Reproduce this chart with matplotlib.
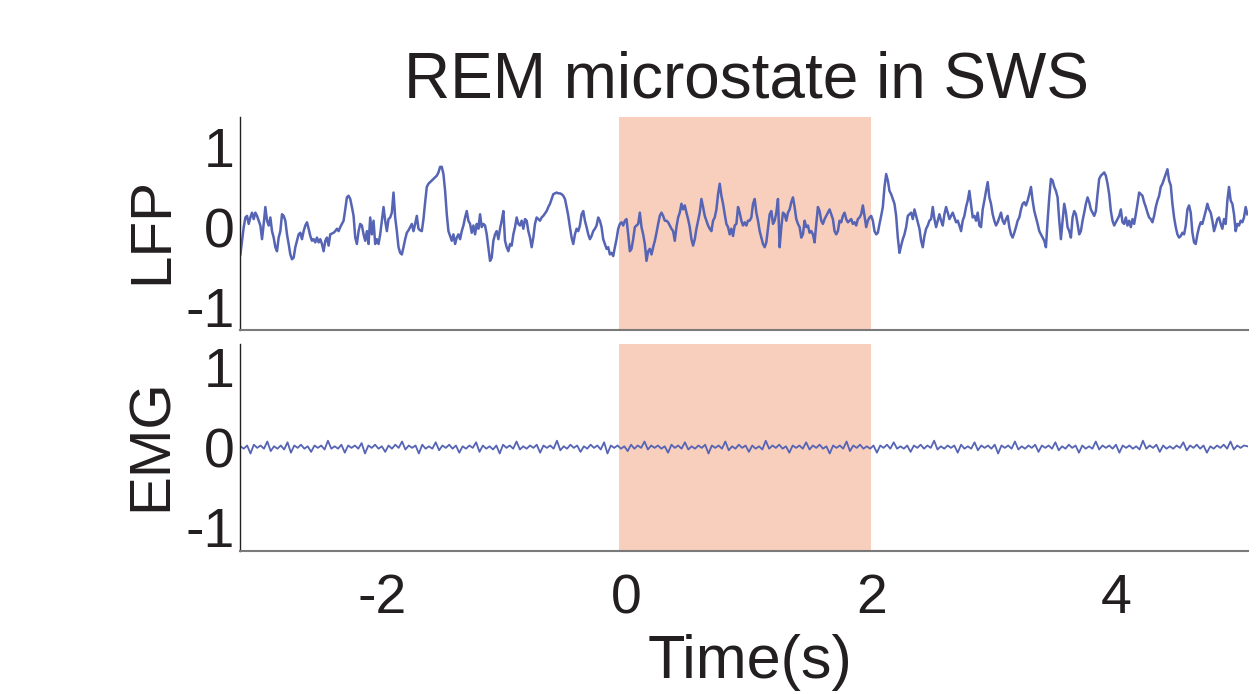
import numpy as np
import matplotlib
matplotlib.use("Agg")
import matplotlib.pyplot as plt

plt.rcParams['font.family'] = ['Liberation Sans', 'DejaVu Sans']
plt.rcParams['axes.unicode_minus'] = False

# ---------------- data ----------------
title = "REM microstate in SWS"
xlabel = "Time(s)"
trace_names = ["LFP", "EMG"]
x_ticks = [-2, 0, 2, 4]
y_ticks = [-1, 0, 1]
shade_start, shade_end = -0.06, 2.0
t_start, t_end = -3.157, 5.075  # time span of the recorded traces (s)

lfp = [
    # -3.16 s ...
    -0.34, -0.17, 0.00, 0.12, 0.14, 0.04, 0.12, 0.18, 0.10, 0.18, 0.14, 0.08, 0.02, -0.15, 0.04, 0.25, 0.08, 0.02, 0.12, -0.05,
    -0.13, -0.25, -0.30, -0.13, -0.05, 0.16, 0.14, 0.08, -0.09, -0.21, -0.34, -0.40, -0.38, -0.25, -0.17, -0.09, -0.07, -0.15, -0.05, 0.02,
    0.06, -0.02, -0.11, -0.17, -0.15, -0.19, -0.13, -0.19, -0.15, -0.21, -0.30, -0.17, -0.13, -0.23, -0.09, -0.08, -0.07, -0.05, -0.02, -0.05,
    0.00, 0.04, 0.08, 0.22, 0.37, 0.39, 0.35, 0.25, 0.14, -0.13, -0.21, -0.05, 0.04, 0.02, -0.09, -0.17, -0.05, -0.21, 0.12, -0.09,
    0.08, -0.21, -0.15, -0.21, -0.09, 0.08, 0.25, 0.08, -0.05, 0.10, 0.12, 0.18, 0.43, 0.12, -0.05, -0.25, -0.32, -0.34, -0.25, -0.15,
    -0.07, -0.04, 0.00, 0.04, -0.05, 0.04, 0.14, -0.02, -0.04, -0.05, 0.10, 0.31, 0.50, 0.54, 0.56, 0.58, 0.60, 0.62,
    # -1.53 s ...
    0.64, 0.68, 0.75, 0.75, 0.66, 0.45, 0.16, -0.05, -0.11, -0.17, -0.09, -0.21, -0.13, -0.09, -0.15, -0.05, 0.02, 0.12, 0.20, 0.08,
    0.04, -0.07, 0.02, -0.09, 0.04, -0.02, 0.16, 0.00, 0.04, 0.02, -0.09, -0.25, -0.42, -0.38, -0.17, -0.09, -0.05, -0.15, -0.02, 0.08,
    0.20, -0.17, -0.25, -0.30, -0.21, -0.23, -0.09, 0.00, 0.12, 0.04, 0.02, 0.08, -0.02, 0.10, 0.08, -0.05, -0.13, -0.25, -0.13, 0.04,
    0.12, 0.10, 0.08, 0.12, 0.14, 0.17, 0.20, 0.25, 0.29, 0.35, 0.41, 0.42, 0.43, 0.42, 0.42, 0.41, 0.39, 0.35, 0.25, 0.14,
    0.00, -0.13, -0.21, -0.09, -0.02, -0.05, 0.02, 0.16, 0.20, 0.08, 0.00, -0.09, -0.15, -0.11, -0.05, -0.02, 0.02, 0.12, 0.08, 0.00,
    -0.15, -0.21, -0.27, -0.25, -0.34, -0.32, -0.36, -0.25, -0.15, -0.02, 0.04, 0.06, 0.02, 0.08, 0.10, -0.09, -0.30, -0.27, -0.15, 0.00,
    # 0.08 s ...
    0.02, 0.04, 0.18, 0.00, -0.09, -0.21, -0.42, -0.30, -0.27, -0.34, -0.25, -0.17, -0.07, 0.04, 0.14, 0.18, 0.14, 0.08, 0.08, 0.06,
    0.02, -0.02, -0.05, -0.17, 0.00, 0.12, 0.18, 0.29, 0.22, 0.27, 0.18, 0.10, 0.00, -0.15, -0.23, -0.15, -0.02, 0.08, 0.18, 0.35,
    0.25, 0.14, 0.08, 0.02, -0.02, -0.05, 0.08, 0.12, 0.22, 0.41, 0.54, 0.39, 0.29, 0.16, 0.04, 0.00, -0.09, -0.02, -0.11, 0.02,
    0.04, 0.25, 0.18, 0.08, 0.02, 0.06, 0.02, 0.08, 0.08, 0.12, 0.29, 0.35, 0.18, 0.08, -0.05, -0.13, -0.21, -0.25, -0.19, -0.02,
    0.16, 0.20, 0.04, 0.08, 0.18, 0.35, -0.25, 0.00, 0.18, 0.16, 0.08, 0.18, 0.22, 0.31, 0.37, 0.25, 0.10, 0.04, 0.00, -0.13,
    -0.09, 0.08, 0.00, 0.02, -0.07, -0.05, -0.09, -0.19, 0.04, 0.25, 0.20, 0.08, 0.04, 0.10, 0.14, 0.18, 0.22, 0.16, 0.10, -0.05,
    # 1.71 s ...
    -0.09, -0.05, 0.08, 0.06, 0.14, 0.18, 0.10, 0.06, 0.08, 0.10, 0.04, 0.06, 0.02, 0.10, 0.12, 0.16, 0.27, 0.14, 0.00, 0.08,
    0.12, 0.14, 0.08, -0.05, -0.09, -0.07, 0.04, 0.14, 0.25, 0.50, 0.66, 0.58, 0.45, 0.41, 0.35, 0.29, 0.14, -0.13, -0.32, -0.23,
    -0.15, -0.09, 0.00, 0.14, 0.16, 0.18, 0.10, 0.22, 0.14, 0.06, -0.02, -0.17, -0.25, -0.11, -0.02, 0.02, 0.08, 0.10, 0.25, 0.10,
    0.00, 0.08, 0.16, 0.08, 0.02, 0.16, 0.25, 0.18, 0.10, 0.14, 0.18, 0.12, 0.06, 0.08, 0.02, -0.05, 0.08, 0.14, 0.25, 0.33,
    0.45, 0.29, 0.12, 0.14, 0.08, 0.18, 0.02, 0.00, 0.22, 0.33, 0.45, 0.56, 0.37, 0.29, 0.16, 0.08, 0.02, 0.06, 0.12, 0.18,
    0.08, 0.04, 0.10, 0.14, 0.00, -0.09, -0.13, -0.07, 0.00, 0.08, 0.12, 0.22, 0.29, 0.31, 0.27, 0.33, 0.41, 0.50, 0.33, 0.20,
    # 3.34 s ...
    0.12, 0.04, -0.05, -0.09, -0.13, -0.17, -0.25, 0.08, 0.37, 0.60, 0.58, 0.50, 0.45, 0.37, 0.08, -0.15, 0.08, 0.29, 0.18, 0.00,
    -0.05, -0.13, 0.12, 0.20, 0.16, 0.04, -0.09, -0.05, 0.08, 0.18, 0.29, 0.37, 0.31, 0.22, 0.18, 0.14, 0.20, 0.41, 0.60, 0.64,
    0.66, 0.68, 0.64, 0.54, 0.41, 0.20, 0.08, 0.02, 0.06, 0.10, 0.14, 0.22, 0.06, 0.04, 0.12, 0.02, 0.08, 0.00, 0.10, 0.04,
    0.16, 0.29, 0.43, 0.41, 0.39, 0.31, 0.25, 0.18, 0.12, 0.10, 0.06, 0.14, 0.25, 0.33, 0.39, 0.50, 0.54, 0.60, 0.66, 0.72,
    0.58, 0.52, 0.29, 0.12, 0.00, -0.09, -0.13, -0.11, -0.07, -0.09, 0.02, 0.22, 0.27, 0.18, -0.07, -0.19, -0.21, -0.09, 0.00, 0.06,
    0.04, 0.12, 0.20, 0.29, 0.22, 0.18, 0.08, -0.05, 0.02, 0.10, 0.12, 0.04, -0.02, 0.10, 0.04, 0.33, 0.50, 0.33, 0.29, 0.16,
    -0.05, 0.04, 0.02, 0.08, 0.06, 0.12, 0.25, 0.16,
]

emg = [
    0.01, -0.02, 0.02, -0.08, 0.03, -0.01, 0.02, -0.02, 0.07, -0.05, 0.01, -0.02, 0.02, -0.03, 0.06, -0.07, 0.02, -0.01, 0.03, -0.02,
    0.01, -0.06, 0.02, -0.01, 0.02, -0.03, 0.08, -0.02, 0.01, -0.02, 0.03, -0.07, 0.02, -0.01, 0.02, -0.02, 0.05, -0.08, 0.02, -0.01,
    0.03, -0.02, 0.01, -0.06, 0.02, -0.02, 0.03, -0.01, 0.07, -0.03, 0.02, -0.01, 0.02, -0.08, 0.03, -0.02, 0.01, -0.02, 0.06, -0.04,
    0.02, -0.01, 0.03, -0.02, 0.02, -0.07, 0.01, -0.02, 0.02, -0.01, 0.06, -0.06, 0.02, -0.02, 0.01, -0.03, 0.02, -0.08, 0.03, -0.01,
    0.02, -0.02, 0.07, -0.03, 0.01, -0.02, 0.02, -0.01, 0.03, -0.07, 0.02, -0.01, 0.02, -0.02, 0.08, -0.04, 0.01, -0.02, 0.03, -0.01,
    0.02, -0.06, 0.01, -0.02, 0.03, -0.01, 0.02, -0.03, 0.06, -0.08, 0.02, -0.01, 0.02, -0.02, 0.01, -0.05, 0.03, -0.02, 0.02, -0.01,
    0.07, -0.03, 0.02, -0.01, 0.02, -0.02, 0.01, -0.07, 0.03, -0.01, 0.02, -0.02, 0.06, -0.03, 0.01, -0.02, 0.02, -0.01, 0.03, -0.08,
    0.02, -0.01, 0.02, -0.02, 0.07, -0.04, 0.01, -0.02, 0.03, -0.01, 0.02, -0.06, 0.02, -0.02, 0.01, -0.03, 0.08, -0.02, 0.02, -0.01,
    0.03, -0.02, 0.01, -0.07, 0.02, -0.01, 0.02, -0.02, 0.06, -0.03, 0.02, -0.01, 0.03, -0.02, 0.01, -0.08, 0.02, -0.01, 0.02, -0.02,
    0.07, -0.05, 0.02, -0.01, 0.03, -0.02, 0.01, -0.02, 0.02, -0.07, 0.02, -0.01, 0.03, -0.02, 0.06, -0.02, 0.01, -0.02, 0.02, -0.06,
    0.02, -0.01, 0.03, -0.02, 0.02, -0.01, 0.08, -0.03, 0.01, -0.02, 0.02, -0.01, 0.02, -0.07, 0.03, -0.02, 0.01, -0.02, 0.06, -0.04,
    0.02, -0.01, 0.02, -0.02, 0.03, -0.08, 0.02, -0.01, 0.02, -0.02, 0.07, -0.03, 0.01, -0.02, 0.02, -0.01, 0.03, -0.06, 0.02, -0.01,
    0.02, -0.02, 0.06, -0.04, 0.01, -0.02, 0.03, -0.01, 0.02, -0.07, 0.02, -0.02, 0.01, -0.02, 0.07, -0.03, 0.02, -0.01, 0.02, -0.02,
    0.03, -0.07, 0.02, -0.01, 0.02, -0.02, 0.01, -0.03, 0.08, -0.02, 0.02, -0.01, 0.03, -0.06, 0.02, -0.02, 0.01, -0.02, 0.02, -0.01,
    0.06, -0.04, 0.02, -0.01, 0.03, -0.02, 0.02, -0.07, 0.01, -0.02, 0.02, -0.01, 0.03, -0.02, 0.07, -0.03, 0.02, -0.01, 0.02, 0.01,
]

# ---------------- style ----------------
line_color = "#5564b4"
shade_color = "#f8cebd"
xlim = (-3.16, 5.08)
ylim_lfp = (-1.28, 1.37)
ylim_emg = (-1.30, 1.29)

fig = plt.figure(figsize=(12.58, 6.94), dpi=100)
ax1 = fig.add_axes([0.1908, 0.5245, 0.8012, 0.3069])
ax2 = fig.add_axes([0.1908, 0.2061, 0.8012, 0.2982])

t_lfp = np.linspace(t_start, t_end, len(lfp))
t_emg = np.linspace(t_start, t_end, len(emg))

for ax, t, y, yl, lw in [(ax1, t_lfp, lfp, ylim_lfp, 1.8), (ax2, t_emg, emg, ylim_emg, 1.3)]:
    ax.axvspan(shade_start, shade_end, color=shade_color, lw=0, zorder=0)
    ax.plot(t, y, color=line_color, lw=lw, zorder=2)
    ax.set_xlim(*xlim)
    ax.set_ylim(*yl)
    ax.set_yticks(y_ticks)
    ax.set_yticklabels([str(v) for v in y_ticks])
    ax.set_xticks(x_ticks)
    ax.spines['top'].set_visible(False)
    ax.spines['right'].set_visible(False)
    ax.spines['left'].set_color('#222222')
    ax.spines['left'].set_linewidth(1.0)
    ax.spines['bottom'].set_color('#7a7a7a')
    ax.spines['bottom'].set_linewidth(1.5)
    ax.tick_params(axis='both', length=0, labelsize=40, colors='#231f20')
    ax.tick_params(axis='y', pad=4)
    ax.tick_params(axis='x', pad=16)

ax1.set_xticklabels([])
ax2.set_xticklabels([str(v) for v in x_ticks])

fig.text(0.593, 0.860, title, ha='center', va='baseline', fontsize=46, color='#231f20')
fig.text(0.121, 1 - 230 / 694, trace_names[0], rotation=90, ha='center', va='center',
         fontsize=42, color='#231f20')
fig.text(0.121, 1 - 445 / 694, trace_names[1], rotation=90, ha='center', va='center',
         fontsize=42, color='#231f20')
fig.text(0.596, 1 - 678 / 694, xlabel, ha='center', va='baseline', fontsize=44, color='#231f20')

fig.savefig("out.png", dpi=100)
